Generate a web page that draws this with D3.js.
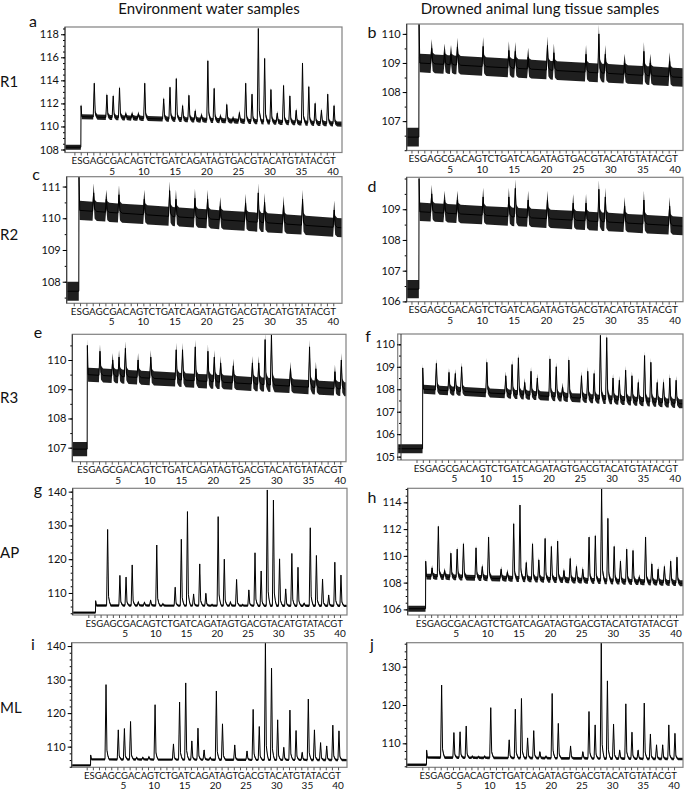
<!DOCTYPE html>
<html>
<head>
<meta charset="utf-8">
<script src="https://cdn.jsdelivr.net/npm/d3@7"></script>
<style>
  body { margin: 0; background: #fff; }
  svg { display: block; }
  text { font-family: Lato, "Open Sans", sans-serif; fill: #111; }
</style>
</head>
<body>
<svg id="fig" width="685" height="792"></svg>
<script>
// dispensation order, E and S first, then 1..40
const dispensation = "ESGAGCGACAGTCTGATCAGATAGTGACGTACATGTATACGT";
const posLabels = [5, 10, 15, 20, 25, 30, 35, 40];

const panelIds = ["a", "b", "c", "d", "e", "f", "g", "h", "i", "j"];
const rowLabels = ["R1", "R2", "R3", "AP", "ML"];
const columnTitles = ["Environment water samples", "Drowned animal lung tissue samples"];

// peak tops read per dispensation 1..40 (null = nothing visible)
const peaksA = [null, 113.75, null, 112.74, 112.65, 113.35, 111.1, 111.1, 111.1, 113.75,
  null, null, 112.4, 113.4, 114.15, 111.8, 112.7, 111.35, 111.0, 115.7,
  113.3, 110.9, 111.9, 110.7, 111.2, 113.75, 112.8, 118.5, 115.9, 113.2,
  111.15, 113.55, 112.65, 111.4, 115.5, 113.45, 112.0, 111.4, 112.8, 111.8];
const peaksB = [null, 109.5, null, 109.35, 109.3, 109.55, null, null, null, 109.57,
  null, null, null, 109.43, 109.4, null, 109.2, null, null, 109.6,
  109.35, null, null, null, null, 109.3, null, 110.0, 109.3, null,
  null, 109.0, null, null, 109.4, 109.0, null, null, 109.05, null];
const peaksC = [null, 110.8, null, 110.6, null, 110.74, null, null, null, 110.6,
  null, null, null, 110.87, 110.6, null, null, 110.63, null, 110.6,
  null, 110.37, null, null, null, 110.47, null, 110.8, 110.5, null,
  null, 110.4, null, null, 110.6, null, null, null, null, 110.26];
const peaksD = [null, 109.5, null, 109.3, null, 109.3, null, null, null, 109.4,
  null, null, null, 109.4, 109.68, null, 109.3, null, null, 109.3,
  null, null, null, 109.2, null, 109.2, null, 109.65, 109.4, null,
  null, 109.1, null, null, 109.3, null, null, null, 109.1, null];
const peaksE = [null, 110.3, null, 110.0, 110.1, 110.4, null, 110.0, null, 110.1,
  null, null, null, 110.35, 110.35, null, 110.45, null, 110.3, 110.1,
  109.9, null, 109.8, null, null, 109.9, 109.9, 110.7, 110.88, null,
  null, 109.7, null, null, 110.45, 109.7, null, null, 109.6, 110.0];
const peaksF = [null, 109.15, null, 108.75, 108.7, 109.0, null, null, null, 109.2,
  null, null, 108.6, 109.1, 109.4, 108.3, 108.8, 108.5, null, 109.35,
  109.0, 108.1, 109.3, null, 108.6, 108.8, 108.7, 110.4, 110.3, 108.5,
  108.4, 108.85, 108.6, 108.3, 109.5, 109.2, 108.3, 108.3, 108.5, 108.4];
const peaksG = [null, 128.8, null, 115.2, 114.7, 118.3, 107.4, 107.3, 107.9, 124.2,
  106.8, null, 111.7, 125.9, 134.1, 109.7, 118.6, 109.9, 106.5, 132.6,
  120.0, 107.4, 114.0, 106.5, 110.9, 121.9, 116.5, 140.5, 137.5, 120.1,
  111.2, 121.7, 117.6, 107.0, 129.3, 121.1, 114.1, 109.4, 119.1, 115.3];
const peaksH = [109.1, 112.2, 108.9, 110.2, 110.5, 110.9, null, 110.6, 109.2, 111.4,
  null, 109.0, 108.8, 112.4, 113.8, 109.5, 110.9, 109.7, 111.3, 110.7,
  111.1, 108.9, 109.8, 109.2, 109.0, 111.4, 111.5, 115.0, 112.8, 110.7,
  109.6, 110.5, 110.4, 108.4, 111.4, 109.4, 109.0, 109.2, 109.6, 109.9];
const peaksI = [null, 128.5, null, 115.0, 115.4, 117.5, 106.8, 106.8, 107.0, 122.5,
  null, null, 110.8, 123.3, 129.0, 111.7, 115.5, 109.0, 106.8, 126.6,
  116.8, null, 110.5, null, 108.7, 121.1, 116.0, 141.0, 133.4, 118.0,
  109.8, 120.9, 114.8, 108.3, 124.2, 115.0, 111.2, 110.2, 116.4, 114.7];
const peaksJ = [null, 125.2, null, 112.8, 113.0, 114.5, 106.6, 106.5, 106.6, 119.3,
  null, null, 110.9, 118.9, 121.7, 111.4, 113.3, 107.8, 106.6, 123.0,
  115.2, null, 109.3, null, 107.8, 118.3, 114.8, 136.2, 126.3, 115.0,
  108.2, 120.3, 112.9, 108.2, 120.5, 112.4, 109.6, 109.6, 114.8, 112.6];
const peakSets = [peaksA, peaksB, peaksC, peaksD, peaksE, peaksF, peaksG, peaksH, peaksI, peaksJ];

// levels per panel a..j
const preLevel  = [108.2, 106.45, 107.7, 106.4, 106.95, 105.35, 104.2, 106.05, 104.4, 104.4];
const stepTop   = [111.8, 110.34, 111.3, 110.0, 110.5, 108.95, 107.7, 109.6, 107.5, 108.2];
const baseStart = [110.85, 109.0, 110.25, 108.92, 109.5, 108.0, 106.3, 108.45, 106.2, 106.3];
const baseEnd   = [110.2, 108.5, 109.7, 108.45, 109.0, 107.35, 106.2, 107.95, 106.0, 105.9];
const noise     = [0.22, 0.32, 0.3, 0.3, 0.24, 0.2, 0.35, 0.22, 0.35, 0.35];
const stepPos   = [0.05, 0.18, -0.17, 0.18, 0.16, -0.01, 0.2, 0.14, -0.35, -0.29];

// axes
const xDomain = [[-2.49, 41.41], [-1.74, 41.23], [-2.11, 41.38], [-1.74, 41.23], [-2.21, 40.89],
  [-3.98, 41.24], [-3.54, 41.13], [-2.73, 41.11], [-3.45, 41.46], [-3.54, 41.46]];
const yDomain = [[107.74, 118.63], [105.99, 110.34], [107.32, 111.31], [105.99, 110.04], [106.52, 110.88],
  [104.85, 110.46], [103.48, 140.99], [105.58, 115.05], [103.84, 141.0], [103.74, 136.26]];
const yMajor = [[108, 110, 112, 114, 116, 118], [107, 108, 109, 110], [108, 109, 110, 111], [106, 107, 108, 109],
  [107, 108, 109, 110], [105, 106, 107, 108, 109, 110], [110, 120, 130, 140], [106, 108, 110, 112, 114],
  [110, 120, 130, 140], [110, 120, 130]];
const yMinorStep = [0.5, 0.5, 0.5, 0.5, 0.5, 0.5, 2, 0.5, 2, 2];

// layout
const frames = [
  { x0: 65, x1: 342, y0: 27, y1: 152.5 },
  { x0: 406.7, x1: 683, y0: 24, y1: 150.5 },
  { x0: 66.7, x1: 342, y0: 176.7, y1: 303.3 },
  { x0: 406.7, x1: 683, y0: 177.3, y1: 301.7 },
  { x0: 72.3, x1: 346, y0: 334.3, y1: 461.7 },
  { x0: 397.7, x1: 683, y0: 334, y1: 460, ax: 401 },
  { x0: 72.7, x1: 347, y0: 488.3, y1: 615 },
  { x0: 407.7, x1: 683, y0: 488.3, y1: 615 },
  { x0: 71.7, x1: 347, y0: 642.7, y1: 767.3 },
  { x0: 406.7, x1: 683, y0: 642.7, y1: 767.3 }
];
const idPos = [[33, 27], [372, 38], [36, 180], [372, 192], [38, 338], [368, 342], [38, 495], [372, 503], [33, 650], [372, 650]];
const rowY = [87, 240, 403, 558, 713];

const svg = d3.select("#fig");

// column titles
svg.selectAll("text.title")
  .data(columnTitles)
  .enter()
  .append("text")
  .attr("class", "title")
  .attr("x", (d, i) => i == 0 ? 209 : 540)
  .attr("y", 14)
  .attr("text-anchor", "middle")
  .attr("font-size", 15)
  .text(d => d);

// row labels
svg.selectAll("text.row")
  .data(rowLabels)
  .enter()
  .append("text")
  .attr("class", "row")
  .attr("x", 0)
  .attr("y", (d, i) => rowY[i])
  .attr("font-size", 15)
  .text(d => d);

panelIds.forEach((id, k) => {
  const f = frames[k];
  const ax = f.ax || f.x0;
  const x = d3.scaleLinear().domain(xDomain[k]).range([f.x0, f.x1]);
  const y = d3.scaleLinear().domain(yDomain[k]).range([f.y1, f.y0]);
  const step = stepPos[k];
  const base = d3.scaleLinear().domain([step, xDomain[k][1]]).range([baseStart[k], baseEnd[k]]);
  const w = noise[k];

  // trace points: pre-step level, step, then one narrow spike per dispensation
  const pts = [
    { p: xDomain[k][0], v: preLevel[k] },
    { p: step - 0.03, v: preLevel[k] },
    { p: step, v: stepTop[k] },
    { p: step + 0.12, v: base(step + 0.12) }
  ];
  peakSets[k].forEach((v, i) => {
    const p = i + 1;
    if (v == null) return;
    const b = base(p);
    pts.push({ p: p - 0.02, v: b }, { p: p + 0.15, v: v },
      { p: p + 0.3, v: b + 0.12 * (v - b) }, { p: p + 0.45, v: b + 0.05 * (v - b) },
      { p: p + 0.65, v: base(p + 0.65) });
  });
  pts.push({ p: xDomain[k][1], v: baseEnd[k] });

  const g = svg.append("g");

  g.append("clipPath").attr("id", "clip" + id)
    .append("rect")
    .attr("x", f.x0).attr("y", f.y0)
    .attr("width", f.x1 - f.x0).attr("height", f.y1 - f.y0);

  const plot = g.append("g").attr("clip-path", "url(#clip" + id + ")");

  // noise band
  plot.append("path")
    .datum(pts)
    .attr("fill", "#000")
    .attr("fill-opacity", 0.88)
    .attr("d", d3.area()
      .x(d => x(d.p))
      .y0(d => y(d.v - w))
      .y1(d => y(d.v + w)));

  plot.append("path")
    .datum(pts)
    .attr("fill", "none")
    .attr("stroke", "#000")
    .attr("stroke-width", 1)
    .attr("d", d3.line().x(d => x(d.p)).y(d => y(d.v)));

  // frame
  g.append("rect")
    .attr("x", f.x0).attr("y", f.y0)
    .attr("width", f.x1 - f.x0).attr("height", f.y1 - f.y0)
    .attr("fill", "none")
    .attr("stroke", "#808080")
    .attr("stroke-width", 1.2);

  // y axis, majors and minors
  const minor = d3.range(Math.ceil(yDomain[k][0] / yMinorStep[k]) * yMinorStep[k], yDomain[k][1], yMinorStep[k]);
  const yMinorAxis = g.append("g")
    .attr("transform", "translate(" + ax + ",0)")
    .call(d3.axisLeft(y).tickValues(minor).tickSize(2).tickFormat(""));
  yMinorAxis.select(".domain").remove();

  const yAxis = g.append("g")
    .attr("transform", "translate(" + ax + ",0)")
    .call(d3.axisLeft(y).tickValues(yMajor[k]).tickSize(4).tickPadding(2).tickFormat(d3.format("d")));
  yAxis.select(".domain").attr("d", "M0," + f.y0 + "V" + f.y1).attr("stroke", "#333");
  yAxis.selectAll("text")
    .attr("font-size", 11)
    .attr("font-family", "Lato, sans-serif")
    .attr("fill", "#111");

  // x axis: a tick per dispensation
  const xAxis = g.append("g")
    .attr("transform", "translate(0," + f.y1 + ")")
    .call(d3.axisBottom(x).tickValues(d3.range(-1, 41)).tickSize(3).tickFormat(""));
  xAxis.select(".domain").remove();
  xAxis.selectAll("line").attr("stroke", "#555");

  // dispensation letters as one squeezed string over the ticks
  g.append("text")
    .attr("x", x(-1.45))
    .attr("y", f.y1 + 11.5)
    .attr("textLength", x(40.45) - x(-1.45))
    .attr("lengthAdjust", "spacingAndGlyphs")
    .attr("font-size", 9.5)
    .attr("font-family", "'Liberation Sans', Arial, sans-serif")
    .text(dispensation);

  g.selectAll("text.num")
    .data(posLabels)
    .enter()
    .append("text")
    .attr("class", "num")
    .attr("x", d => x(d))
    .attr("y", f.y1 + 22)
    .attr("text-anchor", "middle")
    .attr("font-size", 10)
    .text(d => d);

  // panel letter
  g.append("text")
    .attr("x", idPos[k][0])
    .attr("y", idPos[k][1])
    .attr("text-anchor", "middle")
    .attr("font-size", 16)
    .text(id);
});
</script>
</body>
</html>
